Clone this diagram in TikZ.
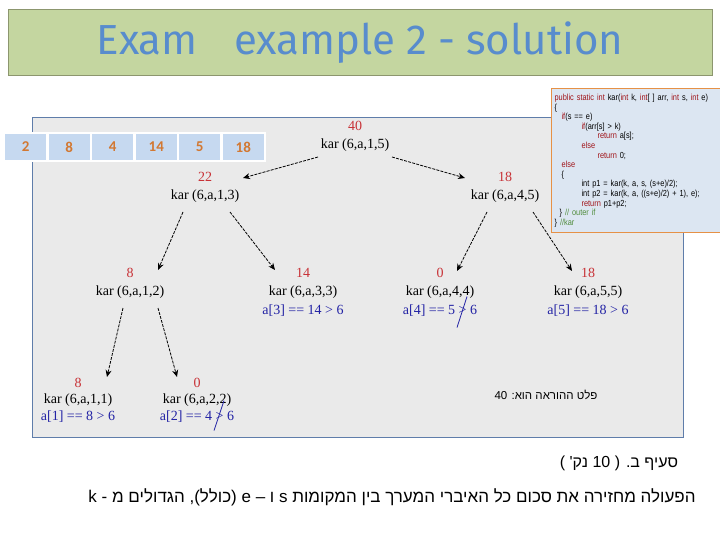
\documentclass[tikz,border=0pt]{standalone}
\usepackage{fontspec}
\setmainfont{Liberation Serif}
\newfontfamily\hebfont[Script=Hebrew]{Liberation Sans}
\newfontfamily\codefont[FakeStretch=0.84]{Liberation Sans}
\newfontfamily\cellfont{Carlito}
\newfontfamily\titlefont{Fira Sans}
\TeXXeTstate=1
\usetikzlibrary{arrows.meta, positioning, calc}
\definecolor{titlebg}{RGB}{196,214,160}
\definecolor{titleline}{RGB}{140,150,110}
\definecolor{titleblue}{RGB}{88,140,205}
\definecolor{panelbg}{RGB}{234,234,234}
\definecolor{panelline}{RGB}{95,125,170}
\definecolor{cellblue}{RGB}{198,217,240}
\definecolor{cellorange}{RGB}{210,120,50}
\definecolor{valred}{RGB}{200,50,55}
\definecolor{condblue}{RGB}{35,35,165}
\definecolor{codebg}{RGB}{220,230,242}
\definecolor{codeline}{RGB}{230,145,70}
\definecolor{kwred}{RGB}{160,20,25}
\definecolor{cmtgreen}{RGB}{80,140,60}
\newcommand{\codekw}[1]{\textcolor{kwred}{#1}}
\newcommand{\codecmt}[1]{\textcolor{cmtgreen}{#1}}

\begin{document}
\begin{tikzpicture}[
    x=1pt, y=-1pt,
    call/.style={inner sep=0pt, font=\fontsize{14}{16}\selectfont},
    val/.style={inner sep=0pt, text=valred, font=\fontsize{14}{16}\selectfont},
    cond/.style={inner sep=0pt, text=condblue, font=\fontsize{14}{16}\selectfont},
    cell/.style={rectangle, fill=cellblue, draw=white, line width=2.5pt, outer sep=0pt, minimum width=43.5pt, minimum height=28pt, font=\cellfont\bfseries\fontsize{15}{17}\selectfont, text=cellorange},
    arr/.style={-{Stealth[length=7pt, width=6pt]}, dash pattern=on 3pt off 1.2pt, line width=0.8pt},
    strike/.style={condblue, line width=0.8pt},
    heb/.style={inner sep=0pt, font=\hebfont},
]
\useasboundingbox (0,0) rectangle (720,540);

% title
\node[rectangle, fill=titlebg, draw=titleline, line width=1pt, minimum width=704pt, minimum height=66pt, text=titleblue, font=\titlefont\fontsize{42}{48}\selectfont] (title) at (360,43) {Exam\hspace{0.6em} example 2 - solution};

% panel
\draw[panelline, fill=panelbg, line width=1pt] (32,118) rectangle (683,437);

% array
\node[cell] (c1) at (25.75,147) {2};
\node[cell, right=0pt of c1] (c2) {8};
\node[cell, right=0pt of c2] (c3) {4};
\node[cell, right=0pt of c3] (c4) {14};
\node[cell, right=0pt of c4] (c5) {5};
\node[cell, right=0pt of c5] (c6) {18};

% calls
\node[call] (k15) at (355,145) {kar (6,a,1,5)};
\node[call] (k13) at (205,196) {kar (6,a,1,3)};
\node[call] (k45) at (505,196) {kar (6,a,4,5)};
\node[call] (k12) at (130,292) {kar (6,a,1,2)};
\node[call] (k33) at (303,292) {kar (6,a,3,3)};
\node[call] (k44) at (440,292) {kar (6,a,4,4)};
\node[call] (k55) at (588,292) {kar (6,a,5,5)};
\node[call] (k11) at (78,400) {kar (6,a,1,1)};
\node[call] (k22) at (197,400) {kar (6,a,2,2)};

% returned values
\node[val, above=8pt of k15] (v15) {40};
\node[val, above=8pt of k13] (v13) {22};
\node[val, above=8pt of k45] (v45) {18};
\node[val, above=8pt of k12] (v12) {8};
\node[val, above=8pt of k33] (v33) {14};
\node[val, above=8pt of k44] (v44) {0};
\node[val, above=8pt of k55] (v55) {18};
\node[val, above=6pt of k11] (v11) {8};
\node[val, above=6pt of k22] (v22) {0};

% conditions
\node[cond, below=6pt of k33] (c33) {a[3] == 14 > 6};
\node[cond, below=6pt of k44] (c44) {a[4] == 5 > 6};
\node[cond, below=6pt of k55] (c55) {a[5] == 18 > 6};
\node[cond, below=4pt of k11] (c11) {a[1] == 8 > 6};
\node[cond, below=4pt of k22] (c22) {a[2] == 4 > 6};
\draw[strike] ($(c44)+(27,-14)$) -- ($(c44)+(17,17)$);
\draw[strike] ($(c22)+(27,-16)$) -- ($(c22)+(17,14)$);

% recursion
\draw[arr] ($(k15)+(-37,12)$) -- ($(k13)+(38,-18)$);
\draw[arr] ($(k15)+(37,12)$) -- ($(k45)+(-40,-18)$);
\draw[arr] ($(k13)+(-22,16)$) -- ($(k12)+(28,-22)$);
\draw[arr] ($(k13)+(25,16)$) -- ($(k33)+(-28,-22)$);
\draw[arr] ($(k45)+(-18,16)$) -- ($(k44)+(17,-21)$);
\draw[arr] ($(k45)+(28,16)$) -- ($(k55)+(-16,-21)$);
\draw[arr] ($(k12)+(-7,16)$) -- ($(k11)+(29,-23)$);
\draw[arr] ($(k12)+(28,16)$) -- ($(k22)+(-20,-23)$);

% result
\node[heb, font=\hebfont\fontsize{11.5}{13}\selectfont] (out) at (546,395) {\beginR פלט ההוראה הוא: \beginL 40\endL\endR};

% code
\node[rectangle, anchor=north west, fill=codebg, draw=codeline, line width=1.2pt, minimum width=170pt, minimum height=144pt, text width=164pt, align=left, inner xsep=3pt, font=\codefont\fontsize{8.8}{9.6}\selectfont] (code) at (551,88) {%
\codekw{public static int} kar(\codekw{int} k, \codekw{int}[ ] arr, \codekw{int} s, \codekw{int} e)\\
\{\\
\hspace*{7pt}\codekw{if}(s == e)\\
\hspace*{27pt}\codekw{if}(arr[s] > k)\\
\hspace*{43pt}\codekw{return} a[s];\\
\hspace*{27pt}\codekw{else}\\
\hspace*{43pt}\codekw{return} 0;\\
\hspace*{7pt}\codekw{else}\\
\hspace*{7pt}\{\\
\hspace*{27pt}int p1 = kar(k, a, s, (s+e)/2);\\
\hspace*{27pt}int p2 = kar(k, a, ((s+e)/2) + 1), e);\\
\hspace*{27pt}\codekw{return} p1+p2;\\
\hspace*{5pt}\} \codecmt{// outer if}\\
\} \codecmt{//kar}};

% question text
\node[heb, font=\hebfont\fontsize{16}{18}\selectfont] (part) at (619,463) {\beginR סעיף ב. ( \beginL 10\endL{} נק' )\endR};
\node[heb, font=\hebfont\fontsize{17}{19}\selectfont] (desc) at (392,497) {\beginR הפעולה מחזירה את סכום כל האיברי המערך בין המקומות \beginL s\endL{} ו – \beginL e\endL{} (כולל), הגדולים מ - \beginL k\endL\endR};

\end{tikzpicture}
\end{document}
